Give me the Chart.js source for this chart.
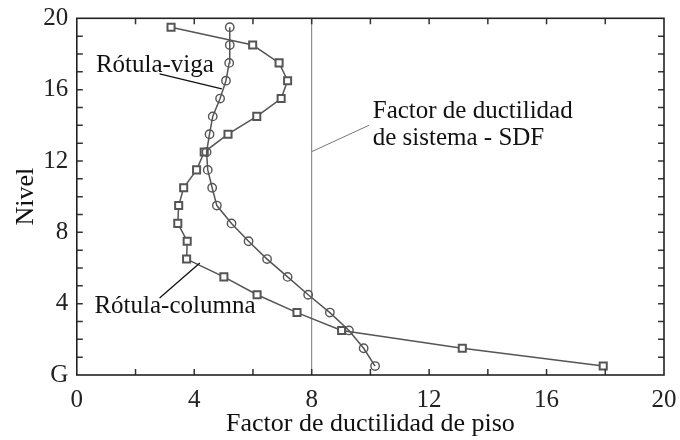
<!DOCTYPE html>
<html>
<head>
<meta charset="utf-8">
<script src="https://cdn.jsdelivr.net/npm/chart.js@4/dist/chart.umd.min.js"></script>
<style>
  html, body { margin: 0; padding: 0; background: #fff; }
  #wrap { width: 680px; height: 440px; position: relative; }
</style>
</head>
<body>
<div id="wrap"><canvas id="c" width="680" height="440"></canvas></div>
<script>
// Floor levels (mid-storey positions, G = 0)
const levels = [0.5, 1.5, 2.5, 3.5, 4.5, 5.5, 6.5, 7.5, 8.5, 9.5, 10.5, 11.5, 12.5, 13.5, 14.5, 15.5, 16.5, 17.5, 18.5, 19.5];
// Storey ductility factor, beam-hinge mechanism (circles)
const rotulaViga = [10.16, 9.77, 9.27, 8.62, 7.88, 7.18, 6.48, 5.85, 5.27, 4.77, 4.61, 4.46, 4.42, 4.52, 4.63, 4.88, 5.08, 5.19, 5.21, 5.21];
// Storey ductility factor, column-hinge mechanism (squares)
const rotulaColumna = [17.93, 13.13, 9.02, 7.50, 6.14, 5.01, 3.74, 3.76, 3.44, 3.47, 3.64, 4.08, 4.34, 5.15, 6.13, 6.96, 7.18, 6.89, 5.99, 3.21];
// System ductility factor
const sdf = 8;
const xTicks = [0, 4, 8, 12, 16, 20];
const yTicks = ['G', '4', '8', '12', '16', '20'];

const FONT = "'Liberation Serif', 'Times New Roman', serif";

const toXY = (xs) => xs.map((v, i) => ({ x: v, y: levels[i] }));

const framePlugin = {
  id: 'frame',
  afterDatasetsDraw(chart) {
    const { ctx, chartArea: a, scales: { x, y } } = chart;
    ctx.save();
    // inward ticks
    ctx.strokeStyle = '#333';
    ctx.lineWidth = 1.5;
    const tl = 6;
    ctx.beginPath();
    for (let v = 1; v < 20; v++) {
      const py = y.getPixelForValue(v);
      ctx.moveTo(a.left, py); ctx.lineTo(a.left + tl, py);
      ctx.moveTo(a.right, py); ctx.lineTo(a.right - tl, py);
    }
    for (let v = 2; v < 20; v += 2) {
      const px = x.getPixelForValue(v);
      ctx.moveTo(px, a.top); ctx.lineTo(px, a.top + tl);
      ctx.moveTo(px, a.bottom); ctx.lineTo(px, a.bottom - tl);
    }
    ctx.stroke();
    // box
    ctx.strokeStyle = '#222';
    ctx.lineWidth = 1.6;
    ctx.strokeRect(a.left, a.top, a.right - a.left, a.bottom - a.top);

    // annotations
    ctx.fillStyle = '#111';
    ctx.font = '25px ' + FONT;
    ctx.textBaseline = 'alphabetic';
    ctx.textAlign = 'left';
    const P = (dx, dy) => [x.getPixelForValue(dx), y.getPixelForValue(dy)];
    let p = P(0.65, 16.97);
    ctx.fillText('Rótula-viga', p[0], p[1]);
    p = P(0.6, 3.49);
    ctx.fillText('Rótula-columna', p[0], p[1]);
    p = P(10.08, 14.41);
    ctx.fillText('Factor de ductilidad', p[0], p[1]);
    p = P(10.08, 12.9);
    ctx.fillText('de sistema - SDF', p[0], p[1]);

    // leader lines
    ctx.strokeStyle = '#111';
    ctx.lineWidth = 1.3;
    ctx.beginPath();
    let s = P(2.82, 16.88), e = P(4.94, 16.04);
    ctx.moveTo(s[0], s[1]); ctx.lineTo(e[0], e[1]);
    s = P(2.82, 4.32); e = P(4.19, 6.28);
    ctx.moveTo(s[0], s[1]); ctx.lineTo(e[0], e[1]);
    ctx.stroke();
    ctx.strokeStyle = '#777';
    ctx.lineWidth = 1;
    ctx.beginPath();
    s = P(sdf, 12.52); e = P(9.95, 14.0);
    ctx.moveTo(s[0], s[1]); ctx.lineTo(e[0], e[1]);
    ctx.stroke();
    ctx.restore();
  }
};

new Chart(document.getElementById('c'), {
  type: 'scatter',
  data: {
    datasets: [
      {
        label: 'Rótula-viga',
        data: toXY(rotulaViga),
        showLine: true,
        borderColor: '#555',
        borderWidth: 1.5,
        pointStyle: 'circle',
        pointRadius: 4.2,
        pointBorderWidth: 1.4,
        pointBorderColor: '#555',
        pointBackgroundColor: 'rgba(255,255,255,0)'
      },
      {
        label: 'Rótula-columna',
        data: toXY(rotulaColumna),
        showLine: true,
        borderColor: '#555',
        borderWidth: 1.5,
        pointStyle: 'rect',
        pointRadius: 5,
        pointBorderWidth: 2,
        pointBorderColor: '#555',
        pointBackgroundColor: '#fff'
      },
      {
        label: 'SDF',
        data: [{ x: sdf, y: 0 }, { x: sdf, y: 20 }],
        showLine: true,
        borderColor: '#777',
        borderWidth: 1,
        pointRadius: 0
      }
    ]
  },
  options: {
    responsive: false,
    animation: false,
    devicePixelRatio: 1,
    layout: { padding: { left: 0, right: 16, top: 18.3, bottom: 0 } },
    plugins: { legend: { display: false }, tooltip: { enabled: false } },
    scales: {
      x: {
        type: 'linear', min: 0, max: 20,
        afterBuildTicks(scale) { scale.ticks = xTicks.map(v => ({ value: v })); },
        afterFit(scale) { scale.height = 65; scale.paddingLeft = 0; scale.paddingRight = 0; },
        grid: { display: false, drawTicks: false },
        border: { display: false },
        ticks: {
          padding: 10, color: '#222', font: { family: FONT, size: 25 },
          maxRotation: 0, autoSkip: false
        },
        title: {
          display: true, text: 'Factor de ductilidad de piso', color: '#111',
          font: { family: FONT, size: 26 }, padding: { top: 0, bottom: 0 }
        }
      },
      y: {
        type: 'linear', min: 0, max: 20,
        afterBuildTicks(scale) { scale.ticks = yTicks.map((t, i) => ({ value: i * 4 })); },
        afterFit(scale) { scale.width = 76.8; scale.paddingTop = 0; scale.paddingBottom = 0; },
        grid: { display: false, drawTicks: false },
        border: { display: false },
        ticks: {
          padding: 8.5, color: '#222', font: { family: FONT, size: 25 },
          autoSkip: false,
          callback: (v) => yTicks[Math.round(v / 4)]
        },
        title: {
          display: true, text: 'Nivel', color: '#111',
          font: { family: FONT, size: 26 }, padding: { top: 11, bottom: 0 }
        }
      }
    }
  },
  plugins: [framePlugin]
});
</script>
</body>
</html>
